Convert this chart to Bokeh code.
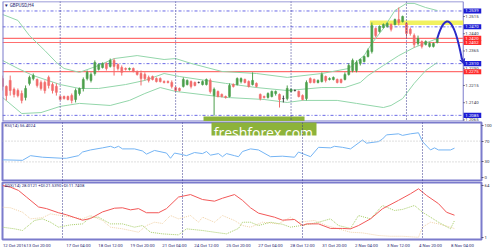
from bokeh.plotting import figure
from bokeh.layouts import column
from bokeh.models import Range1d, Span, Label, FixedTicker, Arrow, VeeHead
from bokeh.core.properties import value
from bokeh.embed import file_html
from bokeh.resources import INLINE

# ---------------- data ----------------
bar_open = [1.2245, 1.2211, 1.2237, 1.2198, 1.2193, 1.2180, 1.2163, 1.2224, 1.2245, 1.2241,
            1.2228, 1.2228, 1.2250, 1.2219, 1.2211, 1.2167, 1.2167, 1.2167, 1.2171, 1.2154,
            1.2180, 1.2202, 1.2245, 1.2237, 1.2267, 1.2285, 1.2293, 1.2311, 1.2298, 1.2324,
            1.2306, 1.2293, 1.2289, 1.2285, 1.2289, 1.2276, 1.2267, 1.2263, 1.2250, 1.2254,
            1.2245, 1.2245, 1.2232, 1.2232, 1.2228, 1.2206, 1.2202, 1.2211, 1.2219, 1.2232,
            1.2228, 1.2228, 1.2219, 1.2219, 1.2237, 1.2171, 1.2189, 1.2176, 1.2167, 1.2167,
            1.2219, 1.2219, 1.2232, 1.2241, 1.2232, 1.2219, 1.2224, 1.2176, 1.2167, 1.2163,
            1.2167, 1.2180, 1.2176, 1.2158, 1.2158, 1.2189, 1.2193, 1.2189, 1.2171, 1.2158,
            1.2245, 1.2241, 1.2228, 1.2232, 1.2254, 1.2241, 1.2241, 1.2241, 1.2241, 1.2241,
            1.2263, 1.2280, 1.2280, 1.2311, 1.2319, 1.2341, 1.2363, 1.2463, 1.2450, 1.2467,
            1.2472, 1.2480, 1.2480, 1.2502, 1.2493, 1.2485, 1.2459, 1.2432, 1.2398, 1.2406,
            1.2393, 1.2385, 1.2385, 1.2402]
bar_high = [1.2258, 1.2215, 1.2258, 1.2206, 1.2202, 1.2193, 1.2215, 1.2258, 1.2267, 1.2245,
            1.2237, 1.2237, 1.2258, 1.2228, 1.2224, 1.2171, 1.2171, 1.2171, 1.2180, 1.2202,
            1.2206, 1.2250, 1.2280, 1.2272, 1.2324, 1.2311, 1.2315, 1.2315, 1.2332, 1.2332,
            1.2311, 1.2302, 1.2293, 1.2293, 1.2293, 1.2280, 1.2280, 1.2272, 1.2258, 1.2258,
            1.2250, 1.2250, 1.2237, 1.2237, 1.2237, 1.2211, 1.2206, 1.2250, 1.2241, 1.2237,
            1.2232, 1.2232, 1.2237, 1.2245, 1.2245, 1.2206, 1.2193, 1.2180, 1.2171, 1.2224,
            1.2224, 1.2250, 1.2250, 1.2245, 1.2237, 1.2272, 1.2228, 1.2180, 1.2171, 1.2185,
            1.2193, 1.2193, 1.2180, 1.2171, 1.2215, 1.2202, 1.2198, 1.2193, 1.2176, 1.2237,
            1.2250, 1.2245, 1.2241, 1.2272, 1.2258, 1.2250, 1.2254, 1.2245, 1.2245, 1.2272,
            1.2311, 1.2332, 1.2324, 1.2332, 1.2345, 1.2376, 1.2489, 1.2467, 1.2476, 1.2485,
            1.2489, 1.2485, 1.2506, 1.2554, 1.2519, 1.2489, 1.2467, 1.2441, 1.2432, 1.2411,
            1.2411, 1.2402, 1.2402, 1.2424]
bar_low = [1.2193, 1.2150, 1.2171, 1.2163, 1.2163, 1.2137, 1.2150, 1.2215, 1.2237, 1.2206,
           1.2193, 1.2180, 1.2202, 1.2180, 1.2171, 1.2150, 1.2154, 1.2150, 1.2137, 1.2141,
           1.2171, 1.2189, 1.2237, 1.2228, 1.2258, 1.2280, 1.2289, 1.2280, 1.2293, 1.2258,
           1.2280, 1.2258, 1.2280, 1.2280, 1.2272, 1.2258, 1.2215, 1.2237, 1.2228, 1.2237,
           1.2228, 1.2228, 1.2224, 1.2224, 1.2202, 1.2189, 1.2189, 1.2206, 1.2215, 1.2202,
           1.2211, 1.2224, 1.2215, 1.2215, 1.2180, 1.2084, 1.2163, 1.2163, 1.2158, 1.2163,
           1.2206, 1.2215, 1.2224, 1.2224, 1.2206, 1.2215, 1.2206, 1.2150, 1.2158, 1.2158,
           1.2163, 1.2171, 1.2119, 1.2141, 1.2150, 1.2185, 1.2189, 1.2163, 1.2150, 1.2150,
           1.2224, 1.2224, 1.2224, 1.2228, 1.2228, 1.2237, 1.2237, 1.2224, 1.2224, 1.2237,
           1.2258, 1.2272, 1.2272, 1.2302, 1.2315, 1.2337, 1.2354, 1.2424, 1.2445, 1.2463,
           1.2467, 1.2450, 1.2476, 1.2476, 1.2489, 1.2424, 1.2432, 1.2380, 1.2389, 1.2376,
           1.2389, 1.2380, 1.2380, 1.2398]
bar_close = [1.2211, 1.2171, 1.2193, 1.2176, 1.2171, 1.2150, 1.2202, 1.2250, 1.2258, 1.2215,
             1.2202, 1.2193, 1.2215, 1.2193, 1.2185, 1.2154, 1.2158, 1.2154, 1.2150, 1.2193,
             1.2202, 1.2241, 1.2272, 1.2263, 1.2315, 1.2306, 1.2311, 1.2289, 1.2324, 1.2298,
             1.2289, 1.2272, 1.2285, 1.2289, 1.2276, 1.2263, 1.2245, 1.2245, 1.2237, 1.2241,
             1.2232, 1.2232, 1.2228, 1.2228, 1.2211, 1.2193, 1.2193, 1.2241, 1.2237, 1.2211,
             1.2215, 1.2228, 1.2232, 1.2241, 1.2189, 1.2198, 1.2167, 1.2167, 1.2163, 1.2215,
             1.2211, 1.2245, 1.2245, 1.2228, 1.2211, 1.2237, 1.2211, 1.2158, 1.2163, 1.2180,
             1.2189, 1.2189, 1.2154, 1.2158, 1.2202, 1.2198, 1.2193, 1.2167, 1.2154, 1.2228,
             1.2228, 1.2228, 1.2237, 1.2263, 1.2237, 1.2245, 1.2250, 1.2228, 1.2228, 1.2263,
             1.2302, 1.2324, 1.2315, 1.2328, 1.2341, 1.2367, 1.2476, 1.2432, 1.2472, 1.2480,
             1.2485, 1.2459, 1.2502, 1.2489, 1.2515, 1.2441, 1.2441, 1.2393, 1.2419, 1.2385,
             1.2406, 1.2398, 1.2398, 1.2419]

bb_upper_x = [0, 4, 7, 11, 14, 16, 20, 25, 29, 35, 42, 45, 49, 57, 66, 74, 83, 90, 94, 96, 99, 102, 105, 107, 110, 113]
bb_upper = [1.2524, 1.2498, 1.2432, 1.2367, 1.2315, 1.2289, 1.2272, 1.2302, 1.2332, 1.2345,
            1.2328, 1.2332, 1.2311, 1.2276, 1.2267, 1.2250, 1.2267, 1.2289, 1.2345, 1.2398,
            1.2463, 1.2541, 1.2572, 1.2572, 1.2554, 1.2541]
bb_mid_x = [0, 4, 8, 15, 20, 25, 32, 37, 42, 46, 58, 66, 74, 83, 89, 93, 95, 99, 103, 107, 113]
bb_mid = [1.2324, 1.2289, 1.2258, 1.2219, 1.2202, 1.2202, 1.2219, 1.2237, 1.2267, 1.2254,
          1.2224, 1.2206, 1.2193, 1.2206, 1.2206, 1.2228, 1.2258, 1.2302, 1.2345, 1.2380, 1.2419]
bb_lower_x = [0, 5, 10, 15, 20, 28, 33, 37, 41, 45, 58, 68, 74, 78, 87, 92, 99, 101, 104, 107, 110, 113]
bb_lower = [1.2163, 1.2093, 1.2097, 1.2124, 1.2137, 1.2128, 1.2150, 1.2180, 1.2206, 1.2189,
            1.2163, 1.2154, 1.2141, 1.2150, 1.2150, 1.2137, 1.2119, 1.2128, 1.2158, 1.2224,
            1.2280, 1.2315]

blue_levels = [1.2539, 1.2470, 1.2310, 1.2085]
red_levels = [1.2420, 1.2402, 1.2275]
price_ticks = [1.2065, 1.2140, 1.2215, 1.2290, 1.2365, 1.2440, 1.2515]
resist_zone = [1.2478, 1.2498]
resist_start = 95.5
forecast_x = [113, 116.25, 119.4]
forecast_y = [1.2419, 1.2489, 1.2330]

rsi_x = [0, 5, 7, 10, 15, 16, 19, 20, 22, 25, 27, 28, 29, 30, 33, 35, 36, 38, 41, 42,
         43, 45, 46, 48, 50, 51, 52, 54, 55, 56, 58, 59, 60, 62, 64, 67, 70, 73, 74, 77,
         79, 82, 83, 85, 87, 90, 91, 94, 95, 96, 99, 100, 102, 104, 105, 107, 108, 109, 112, 113]
rsi_val = [34, 33, 42, 39, 37, 37, 42, 49, 53, 57, 60, 57, 60, 55, 55, 51, 45, 52, 47, 37,
           47, 44, 42, 48, 46, 50, 43, 46, 40, 46, 42, 40, 50, 55, 53, 40, 41, 39, 49, 40,
           58, 57, 60, 58, 55, 72, 66, 69, 74, 82, 84, 81, 84, 86, 69, 53, 57, 53, 53, 56.4024]
rsi_levels = [70, 30]
rsi_ticks = [0, 30, 70, 100]

adx_x = [0, 2, 4, 6, 9, 11, 14, 16, 20, 22, 25, 28, 30, 32, 34, 36, 39, 41, 44, 47,
         50, 53, 55, 58, 60, 62, 64, 68, 70, 73, 75, 76, 79, 82, 85, 87, 89, 92, 95, 99,
         102, 104, 106, 109, 111, 113]
adx_val = [64, 62, 58, 50, 38, 36, 31, 28.5, 22, 24, 32, 36.5, 37, 34.5, 36, 31, 31, 36, 50, 53,
           47, 45, 48.6, 53, 46, 37, 30.5, 25.6, 22, 22.8, 15.5, 17.5, 17.5, 12, 12, 11.5, 15.5, 23.6, 35.8, 46,
           54, 60, 52, 42, 31.6, 28.0121]
pdi_x = [0, 3, 5, 8, 10, 12, 14, 17, 20, 22, 24, 27, 30, 33, 35, 37, 40, 44, 46, 50,
         53, 56, 59, 60, 62, 64, 67, 70, 72, 74, 77, 79, 82, 84, 87, 89, 92, 95, 98, 100,
         103, 105, 107, 109, 112, 113]
pdi_val = [13.5, 11.5, 9.5, 21.6, 23.6, 19.5, 13.5, 16.3, 17.5, 25.6, 25.6, 17.5, 17.5, 13.5, 15.5, 7.4, 5.4, 4.2, 11.5, 9.5,
           7.4, 5.4, 12, 19.5, 19.5, 15.5, 19.5, 17, 13.5, 15, 17.5, 19.5, 23.6, 15.5, 12, 27.6, 23.6, 39.8, 33.7, 35,
           39.8, 31.6, 25.6, 19.5, 11.5, 21.539]
mdi_x = [0, 2, 5, 7, 10, 12, 14, 17, 20, 22, 25, 27, 30, 34, 36, 38, 40, 42, 44, 47,
         49, 50, 53, 55, 58, 60, 62, 65, 69, 72, 74, 78, 81, 84, 87, 90, 94, 97, 100, 104,
         105, 107, 109, 112, 113]
mdi_val = [37.7, 37, 31.6, 23.6, 25, 29.7, 28, 26, 23.6, 27.6, 21.6, 13.5, 11.5, 7.4, 15.5, 19.5, 18, 27.6, 23.6, 27.6,
           19.5, 25.6, 19.5, 27.6, 21.6, 15.5, 13.5, 19.5, 17.5, 25.6, 19.5, 21.6, 15.5, 11.5, 7.4, 6.6, 3.4, 2.5, 2.5, 1.3,
           13.5, 19.5, 17.5, 13.5, 11.7408]
adx_ticks = [1, 64]

week_starts = [15, 45, 75, 105]
xtick_bars = [0, 6, 16, 24, 32, 40, 48, 56, 64, 72, 80, 88, 96, 104, 112]
xtick_labels = ["12 Oct 2016", "13 Oct 20:00", "17 Oct 04:00", "18 Oct 12:00", "19 Oct 20:00",
                "21 Oct 04:00", "24 Oct 12:00", "25 Oct 20:00", "27 Oct 04:00", "28 Oct 12:00",
                "31 Oct 20:00", "2 Nov 04:00", "3 Nov 12:00", "4 Nov 20:00", "8 Nov 04:00"]

# ---------------- styles ----------------
FONT = "Roboto"
FRAME = "#7b7bcc"
UP = "#4c9f4c"
DOWN = "#f26b6b"
DOJI = "#404040"
BAND = "#93d6aa"
BLUE_LINE = "#6868e6"
RED_LINE = "#ff6f6f"
SEP = "#34348c"
TXT = "#1e1e70"
SMALL = "4.3px"
LAST_X = 119.75          # right edge of the bar area (price scale line)
Y_LO, Y_HI = 1.205825, 1.258025

x_rng = Range1d(0, LAST_X)


def style_common(p):
    p.grid.visible = False
    p.background_fill_color = "white"
    p.border_fill_color = "white"
    for w in week_starts:
        p.add_layout(Span(location=w, dimension="height", line_color=SEP,
                          line_dash="1 2", line_width=1))


def make_sub(h, ylo, yhi, top, bottom, xaxis):
    p = figure(width=500, height=h, x_range=x_rng, y_range=Range1d(ylo, yhi),
               output_backend="svg", toolbar_location=None,
               x_axis_location="below" if xaxis else None, y_axis_location="right",
               min_border_left=2, min_border_right=19, min_border_top=top, min_border_bottom=bottom)
    style_common(p)
    p.outline_line_color = FRAME
    p.outline_line_width = 2
    ax = p.yaxis[0]
    ax.axis_line_color = FRAME
    ax.axis_line_width = 1
    ax.major_tick_line_color = "#555577"
    ax.major_tick_out = 2
    ax.major_tick_in = 0
    ax.minor_tick_line_color = None
    ax.major_label_standoff = 1
    ax.major_label_text_font = FONT
    ax.major_label_text_font_size = SMALL
    ax.major_label_text_color = "#333344"
    return p


# ---------------- main price panel (price scale strip drawn inside frame) ----------------
p1 = figure(width=500, height=121, x_range=Range1d(0, 124.5), y_range=Range1d(Y_LO, Y_HI),
            output_backend="svg", toolbar_location=None,
            x_axis_location=None, y_axis_location=None,
            min_border_left=2, min_border_right=0, min_border_top=1, min_border_bottom=0)
style_common(p1)
p1.outline_line_color = None

# borders of the chart area
p1.segment(x0=[0, 0, LAST_X], y0=[Y_HI, Y_LO, Y_LO], x1=[LAST_X, LAST_X, LAST_X], y1=[Y_HI, Y_LO, Y_HI],
           line_color=FRAME, line_width=[1.5, 2, 1])
p1.add_layout(Span(location=0, dimension="height", line_color=FRAME, line_width=2))

# levels
n_b = len(blue_levels)
p1.segment(x0=[0] * n_b, y0=blue_levels, x1=[LAST_X] * n_b, y1=blue_levels,
           line_color=BLUE_LINE, line_dash="3 2 1 2", line_width=1)
n_r = len(red_levels)
p1.segment(x0=[0] * n_r, y0=red_levels, x1=[LAST_X] * n_r, y1=red_levels,
           line_color=RED_LINE, line_width=1.2)

p1.quad(left=[resist_start], right=[LAST_X], bottom=[resist_zone[0]], top=[resist_zone[1]],
        fill_color="#eeee44", fill_alpha=0.85, line_color=None)

p1.line(bb_upper_x, bb_upper, line_color=BAND, line_width=1)
p1.line(bb_mid_x, bb_mid, line_color=BAND, line_width=1)
p1.line(bb_lower_x, bb_lower, line_color=BAND, line_width=1)

idx = list(range(len(bar_open)))
colors = [UP if c > o else (DOWN if c < o else DOJI) for o, c in zip(bar_open, bar_close)]
tops = [max(o, c) for o, c in zip(bar_open, bar_close)]
bots = [min(o, c) for o, c in zip(bar_open, bar_close)]
p1.segment(x0=idx, y0=bar_low, x1=idx, y1=bar_high, line_color=colors, line_width=1)
p1.vbar(x=idx, width=0.5, top=tops, bottom=bots, fill_color=colors, line_color=colors, line_width=0.6)

# price scale: tick marks + labels
n_t = len(price_ticks)
p1.segment(x0=[LAST_X] * n_t, y0=price_ticks, x1=[LAST_X + 0.4] * n_t, y1=price_ticks,
           line_color="#555577", line_width=1)
p1.text(x=[LAST_X + 0.55] * n_t, y=price_ticks, text=[f"{t:.4f}" for t in price_ticks],
        text_font=value(FONT), text_font_size=SMALL, text_color="#333344",
        text_baseline="middle", text_align="left")

# level tags on the price scale
HB = 0.0011
levels_all = blue_levels + red_levels
tag_colors = ["#1c1cd4"] * n_b + ["#ff2a2a"] * n_r
p1.quad(left=[LAST_X + 0.1] * len(levels_all), right=[124.5] * len(levels_all),
        bottom=[v - HB for v in levels_all], top=[v + HB for v in levels_all],
        fill_color=tag_colors, line_color=None)
p1.text(x=[LAST_X + 0.55] * len(levels_all), y=levels_all, text=[f"{v:.4f}" for v in levels_all],
        text_font=value(FONT), text_font_size=SMALL, text_color="white",
        text_baseline="middle", text_align="left")

# forecast arc
sx, px_, ex = forecast_x
sy, py_, ey = forecast_y
p1.quadratic(x0=[sx], y0=[sy], x1=[ex], y1=[ey], cx=[2 * px_ - (sx + ex) / 2],
             cy=[2 * py_ - (sy + ey) / 2], line_color="#2a2ac8", line_width=2)
p1.add_layout(Arrow(end=VeeHead(size=5, line_color="#2a2ac8", fill_color="#2a2ac8", line_width=1),
                    x_start=ex, y_start=ey + 0.0003, x_end=ex + 0.5, y_end=ey - 0.0022,
                    line_color="#2a2ac8", line_width=2))

p1.add_layout(Label(x=0.4, y=1.2563, text="\u25BC GBPUSD,H4", text_font=FONT, text_font_size="4.6px",
                    text_color=TXT, text_baseline="middle", text_align="left"))
# watermark top strip
p1.quad(left=[52.25], right=[78.5], bottom=[1.200], top=[1.2080], fill_color="#8db33a", line_color=None)

# ---------------- RSI panel ----------------
p2 = make_sub(60, -7.69, 105.77, 1, 0, False)
p2.yaxis[0].ticker = FixedTicker(ticks=rsi_ticks, minor_ticks=[])
for lv in rsi_levels:
    p2.add_layout(Span(location=lv, dimension="width", line_color="#bcbcbc",
                       line_dash="1 2", line_width=1))
p2.line(rsi_x, rsi_val, line_color="#74b4f4", line_width=1)
p2.add_layout(Label(x=0.5, y=100, text="RSI(14) 56.4024", text_font=FONT, text_font_size=SMALL,
                    text_color=TXT, text_baseline="middle", text_align="left"))
p2.quad(left=[52.25], right=[78.5], bottom=[80.8], top=[130], fill_color="#8db33a", line_color=None)
p2.text(x=[52.8], y=[87.0], text=["freshforex.com"], text_font=value("Open Sans"),
        text_font_size="14px", text_color="white", text_baseline="alphabetic", text_align="left")

# ---------------- ADX panel ----------------
p3 = make_sub(69, -1.42, 67.63, 1, 11, True)
p3.yaxis[0].ticker = FixedTicker(ticks=adx_ticks, minor_ticks=[])
p3.line(mdi_x, mdi_val, line_color="#f0d2a8", line_width=1, line_dash="1 1")
p3.line(pdi_x, pdi_val, line_color="#a6cc66", line_width=1, line_dash="1 1")
p3.line(adx_x, adx_val, line_color="#f25858", line_width=1)
p3.add_layout(Label(x=0.5, y=64, text="ADX(14) 28.0121 +DI:21.5390 -DI:11.7408", text_font=FONT,
                    text_font_size=SMALL, text_color=TXT, text_baseline="middle", text_align="left"))
xa = p3.xaxis[0]
xa.ticker = FixedTicker(ticks=[b + 3 for b in xtick_bars], minor_ticks=[])
xa.major_label_overrides = {b + 3: t for b, t in zip(xtick_bars, xtick_labels)}
xa.axis_line_color = FRAME
xa.major_tick_out = 0
xa.major_tick_in = 0
xa.minor_tick_line_color = None
xa.major_label_standoff = 3
xa.major_label_text_font = FONT
xa.major_label_text_font_size = SMALL
xa.major_label_text_color = TXT

layout = column(p1, p2, p3)
open("out.html", "w").write(file_html(layout, INLINE))
